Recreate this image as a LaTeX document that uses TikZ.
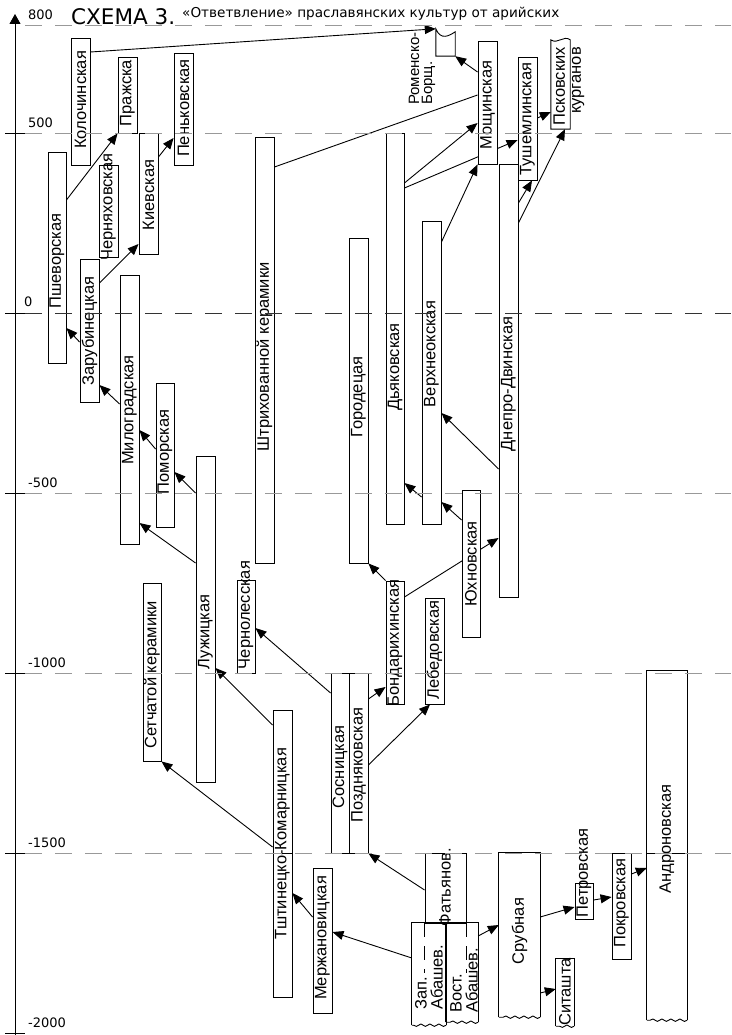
\documentclass[tikz,border=0pt]{standalone}
\usepackage{fontspec}
\setmainfont{DejaVu Sans}
\newfontfamily\cultfont{Liberation Sans}
\usetikzlibrary{arrows.meta, fit, decorations.pathmorphing}
\pgfdeclarelayer{bg}
\pgfsetlayers{bg,main}
\tikzset{
  cult/.style={draw, fill=white, line width=0.9pt, inner sep=0pt},
  openbox/.style={inner sep=0pt},
  cname/.style={rotate=90, inner sep=0pt, font=\cultfont\fontsize{16.5}{16}\selectfont},
  link/.style={line width=0.9pt, -{Triangle[length=11pt,width=9pt]}},
  era/.style={line width=0.9pt, black!40, dash pattern=on 17pt off 13pt},
  torn/.style={decorate, decoration={snake, amplitude=1.2pt, segment length=9pt}},
  yrlbl/.style={anchor=west, inner sep=0pt, font=\fontsize{13}{13}\selectfont},
}
\begin{document}
\begin{tikzpicture}[x=1pt, y=-1pt]
\useasboundingbox (0,0) rectangle (731,1035);

% title
\node[anchor=base west, inner sep=0pt, font=\fontsize{21.5}{22}\selectfont] (title) at (71,25) {СХЕМА 3.};
\node[anchor=base west, inner sep=0pt, font=\fontsize{13.6}{14}\selectfont] (subtitle) at (182,18) {«Ответвление» праславянских культур от арийских};

% time axis
\draw[line width=0.9pt, -{Triangle[length=10pt,width=11pt]}] (15,1035) -- (15,14);
\foreach \y in {133,313,493,673,853,1033} \draw[line width=0.9pt] (5,\y) -- (25,\y);
\foreach \y/\t in {25/800,133/500,493/-500,673/-1000,853/-1500,1033/-2000}
  \node[yrlbl] (yr\t) at (28,\y-10) {\t};
\node[yrlbl] (yr0) at (24,302) {0};

% cultures
\node[cult, fit={(71,38)(90,165)}] (kol) {};
\node[cult, fit={(118,57)(137,133)}] (prazh) {};
\node[cult, fit={(174,53)(193,165)}] (penk) {};
\node[cult, fit={(48,152)(66,363)}] (pshe) {};
\node[cult, fit={(99,165)(118,257)}] (chern) {};
\node[cult, fit={(139,133)(158,254)}] (kiev) {};
\node[cult, fit={(80,259)(99,402)}] (zarub) {};
\node[cult, fit={(120,275)(139,544)}] (milo) {};
\node[cult, fit={(156,383)(174,527)}] (pomor) {};
\node[cult, fit={(196,456)(215,782)}] (luzh) {};
\node[cult, fit={(255,137)(274,563)}] (shtrih) {};
\node[cult, fit={(349,238)(368,563)}] (gorod) {};
\node[cult, fit={(386,133)(404,524)}] (dyak) {};
\node[cult, fit={(422,221)(441,524)}] (verkh) {};
\node[cult, fit={(478,41)(497,164)}] (mosh) {};
\node[cult, fit={(499,164)(518,597)}] (dnepr) {};
\node[cult, fit={(518,57)(537,180)}] (tush) {};
\node[cult, fit={(462,490)(480,637)}] (yukh) {};
\node[cult, fit={(386,581)(404,704)}] (bond) {};
\node[cult, fit={(425,598)(444,704)}] (lebed) {};
\node[cult, fit={(237,580)(255,673)}] (chernol) {};
\node[cult, fit={(143,583)(161,761)}] (setch) {};
\node[cult, fit={(331,673)(349,853)}] (sosn) {};
\node[cult, fit={(349,673)(368,853)}] (pozd) {};
\node[cult, fit={(273,710)(292,997)}] (komar) {};
\draw[line width=0.9pt] (komar.west |- 0,853) -- (komar.east |- 0,853);
\node[cult, fit={(313,868)(332,1013)}] (merzh) {};
\node[cult, fit={(575,883)(593,919)}] (petr) {};
\node[cult, fit={(612,853)(631,959)}] (pokr) {};

% torn-edged ones
\node[openbox, fit={(436,29)(455,56)}] (romen) {};
\draw[line width=0.9pt] (romen.south west) -- (romen.north west)
  .. controls +(5,12) and +(-6,4) .. ([yshift=-3pt]romen.north east) -- (romen.south east) -- cycle;
\node[openbox, fit={(551,40)(570,129)}] (pskov) {};
\draw[line width=0.9pt] (pskov.north west) .. controls +(7,5) and +(-7,-5) .. (pskov.north east)
  -- (pskov.south east) -- (pskov.south west) -- cycle;
\node[cult, fit={(425,853)(466,923)}] (fatyan) {};
\draw[line width=0.9pt, dash pattern=on 14pt off 9pt] (fatyan.south west) -- ++(0,50);
\draw[line width=0.9pt, dash pattern=on 14pt off 9pt] (fatyan.south east) -- ++(0,50);
\foreach \n/\a/\b in {zapab/{(412,923)}/{(446,1025)}, vostab/{(446,923)}/{(478,1022)},
                      srub/{(499,853)}/{(540,1017)}, sitash/{(556,959)}/{(574,1026)},
                      andr/{(647,671)}/{(687,1020)}}{
  \node[openbox, fit={\a\b}] (\n) {};
  \draw[line width=0.9pt] (\n.south west) -- (\n.north west) -- (\n.north east) -- (\n.south east);
  \draw[line width=0.9pt, torn] (\n.south east) -- (\n.south west);
}
\draw[line width=0.9pt] (andr.west |- 0,853) -- (andr.east |- 0,853);

% names
\node[cname] (kol-t) at (80.5,100) {Колочинская};
\node[cname] (prazh-t) at (127.5,93) {Пражска};
\node[cname] (penk-t) at (183.5,108) {Пеньковская};
\node[cname] (pshe-t) at (57,261) {Пшеворская};
\node[cname] (chern-t) at (108.5,207) {Черняховская};
\node[cname] (kiev-t) at (148.5,195) {Киевская};
\node[cname] (zarub-t) at (89.5,331) {Зарубинецкая};
\node[cname] (milo-t) at (129.5,410) {Милоградская};
\node[cname] (pomor-t) at (165,452) {Поморская};
\node[cname] (luzh-t) at (205.5,632) {Лужицкая};
\node[cname] (shtrih-t) at (264.5,357) {Штрихованной керамики};
\node[cname] (gorod-t) at (358.5,397) {Городецая};
\node[cname] (dyak-t) at (395,367) {Дьяковская};
\node[cname] (verkh-t) at (431.5,354) {Верхнеокская};
\node[cname] (mosh-t) at (487.5,105) {Мощинская};
\node[cname] (dnepr-t) at (508.5,384) {Днепро-Двинская};
\node[cname] (tush-t) at (527.5,119) {Тушемлинская};
\node[cname, align=right, anchor=east] (pskov-t) at (569,47) {Псковских\\курганов};
\node[cname, align=left, anchor=west, font=\cultfont\fontsize{15}{13}\selectfont] (romen-t) at (422,105) {Роменско-\\Борщ.};
\node[cname] (yukh-t) at (471,564) {Юхновская};
\node[cname] (bond-t) at (395,643) {Бондарихинская};
\node[cname] (lebed-t) at (434.5,650) {Лебедовская};
\node[cname] (chernol-t) at (246,615) {Чернолесская};
\node[cname] (setch-t) at (152,675) {Сетчатой керамики};
\node[cname] (sosn-t) at (340,767) {Сосницкая};
\node[cname] (pozd-t) at (358.5,765) {Поздняковская};
\node[cname] (komar-t) at (282.5,844) {Тштинецко-Комарницкая};
\node[cname] (merzh-t) at (322.5,938) {Мержановицкая};
\node[cname] (fatyan-t) at (445,887) {Фатьянов.};
\node[cname, align=left, anchor=west] (zapab-t) at (429,1010) {Зап.\\Абашев.};
\node[cname, align=left, anchor=west] (vostab-t) at (464,1013) {Вост.\\Абашев.};
\node[cname] (srub-t) at (519.5,931) {Срубная};
\node[cname] (petr-t) at (584,873) {Петровская};
\node[cname] (sitash-t) at (565,992) {Ситашта};
\node[cname] (pokr-t) at (621.5,903) {Покровская};
\node[cname] (andr-t) at (667,839) {Андроновская};

% links
\begin{pgfonlayer}{bg}
\draw[link] (kol.east |- 0,52) -- (romen.north west);
\draw[link] (mosh.west |- 0,72) -- (romen.south east);
\draw[line width=0.9pt] (shtrih.east |- 0,167) -- (mosh.west |- 0,95);
\draw[link] (dyak.east |- 0,183) -- (mosh.west |- 0,123);
\draw[link] (dyak.east |- 0,188) -- (tush.west |- 0,140);
\draw[link] (verkh.east |- 0,242) -- (mosh.south west);
\draw[link] (dnepr.east |- 0,203) -- (532,0 |- tush.south);
\draw[link] (dnepr.east |- 0,223) -- (565,0 |- pskov.south);
\draw[link] (tush.east |- 0,118) -- (pskov.west |- 0,112);
\draw[link] (pshe.east |- 0,200) -- (prazh.south west);
\draw[link] (kiev.east |- 0,157) -- (penk.west |- 0,138);
\draw[link] (zarub.east |- 0,283) -- (kiev.west |- 0,244);
\draw[link] (zarub.west |- 0,342) -- (pshe.east |- 0,328);
\draw[link] (milo.west |- 0,404) -- (zarub.east |- 0,385);
\draw[link] (pomor.west |- 0,449) -- (milo.east |- 0,430);
\draw[link] (luzh.west |- 0,493) -- (pomor.east |- 0,472);
\draw[link] (luzh.west |- 0,563) -- (milo.east |- 0,523);
\draw[link] (komar.west |- 0,725) -- (luzh.east |- 0,668);
\draw[link] (sosn.west |- 0,693) -- (chernol.east |- 0,628);
\draw[link] (komar.west |- 0,847) -- (setch.south east);
\draw[link] (merzh.west |- 0,917) -- (komar.east |- 0,893);
\draw[link] (zapab.west |- 0,958) -- (merzh.east |- 0,932);
\draw[link] (fatyan.west |- 0,890) -- (pozd.south east);
\draw[link] (pozd.east |- 0,699) -- (bond.west |- 0,687);
\draw[link] (pozd.east |- 0,765) -- (430,0 |- lebed.south);
\draw[link] (bond.north west) -- (gorod.south east);
\draw[link] (bond.east |- 0,597) -- (dnepr.west |- 0,538);
\draw[link] (yukh.west |- 0,520) -- (verkh.east |- 0,502);
\draw[link] (verkh.west |- 0,497) -- (dyak.east |- 0,483);
\draw[link] (dnepr.west |- 0,469) -- (verkh.east |- 0,413);
\draw[link] (vostab.east |- 0,936) -- (srub.west |- 0,925);
\draw[link] (srub.east |- 0,917) -- (petr.west |- 0,907);
\draw[link] (srub.east |- 0,993) -- (sitash.west |- 0,989);
\draw[link] (petr.east |- 0,900) -- (pokr.west |- 0,897);
\draw[link] (pokr.east |- 0,874) -- (andr.west |- 0,868);
\end{pgfonlayer}

% era lines
\foreach \y in {25,133,493,673,853} \draw[era] (25,\y) -- (731,\y);
\draw[era, black!80] (25,313) -- (731,313);
\end{tikzpicture}
\end{document}
